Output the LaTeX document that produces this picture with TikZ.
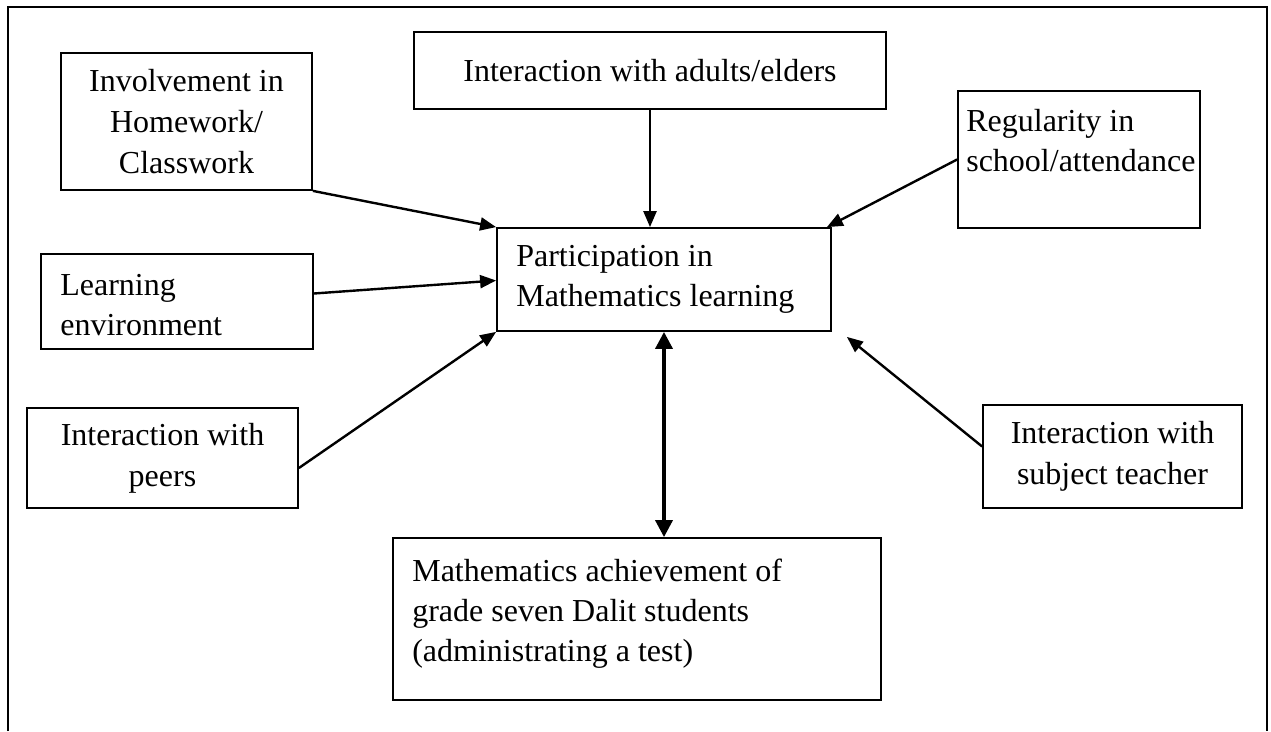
\documentclass[tikz,border=0pt]{standalone}
\usepackage{fontspec}
\setmainfont{Liberation Serif}
\usetikzlibrary{arrows.meta}

\begin{document}
\begin{tikzpicture}[x=1pt,y=-1pt,
  box/.style={draw,line width=1.8pt,inner sep=0pt,align=center,
    font=\fontsize{32}{41}\selectfont},
  txt/.style={inner sep=0pt,align=left,font=\fontsize{32}{40}\selectfont},
  arr/.style={line width=2.4pt,-{Triangle[length=16pt,width=13pt]}},
  dblarr/.style={line width=3.6pt,{Triangle[length=17pt,width=17pt]}-{Triangle[length=17pt,width=17pt]}}]
\useasboundingbox (0,0) rectangle (1271,731);

% outer frame
\draw[line width=1.8pt] (8,731) -- (8,7) -- (1267,7) -- (1267,731);

% boxes
\node[box,minimum width=251pt,minimum height=137pt] (inv) at (186.5,121.5) {Involvement in\\Homework/\\Classwork};
\node[box,minimum width=472pt,minimum height=77pt] (adults) at (650,70.5) {Interaction with adults/elders};
\node[box,minimum width=242pt,minimum height=137pt] (reg) at (1079,159.5) {};
\node[txt,anchor=north west] (regtxt) at ([shift={(9pt,-19pt)}]reg.north west) {Regularity in\\school/attendance};
\node[box,minimum width=334pt,minimum height=103pt] (par) at (664,279.5) {};
\node[txt,anchor=west] (partxt) at ([xshift=20pt]par.west) {Participation in\\Mathematics learning};
\node[box,minimum width=272pt,minimum height=95pt] (learn) at (177,301.5) {};
\node[txt,anchor=west] (learntxt) at ([shift={(20pt,-4pt)}]learn.west) {Learning\\environment};
\node[box,minimum width=271pt,minimum height=100pt] (peers) at (162.5,458) {Interaction with\\peers};
\node[box,minimum width=259pt,minimum height=103pt] (teach) at (1112.5,456.5) {Interaction with\\subject teacher};
\node[box,minimum width=488pt,minimum height=162pt] (math) at (637,619) {};
\node[txt,anchor=north west] (mathtxt) at ([shift={(20pt,-22pt)}]math.north west) {Mathematics achievement of\\grade seven Dalit students\\(administrating a test)};

% arrows
\draw[arr] (inv.south east) -- (par.north west);
\draw[arr] ([yshift=8pt]learn.east) -- ([yshift=-1pt]par.west);
\draw[arr] ([yshift=-10pt]peers.east) -- (par.south west);
\draw[arr] (adults.south) -- (adults.south |- par.north);
\draw[arr] (reg.west) -- ([xshift=-5pt]par.north east);
\draw[arr] ([yshift=10pt]teach.west) -- ([shift={(15pt,-5pt)}]par.south east);
\draw[dblarr] (par.south) -- (par.south |- math.north);
\end{tikzpicture}
\end{document}
